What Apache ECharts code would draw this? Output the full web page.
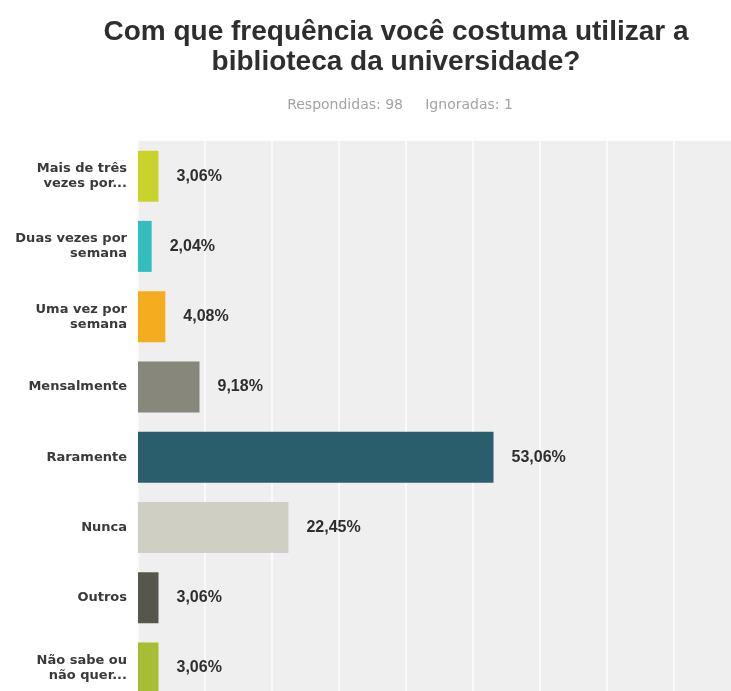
<!DOCTYPE html>
<html>
<head>
<meta charset="utf-8">
<script src="https://cdn.jsdelivr.net/npm/echarts@6/dist/echarts.min.js"></script>
<style>
  html, body { margin: 0; padding: 0; background: #ffffff; }
  #chart { width: 731px; height: 691px; }
</style>
</head>
<body>
<div id="chart"></div>
<script>
// Survey question and answer counts summary
const titleText = 'Com que frequência você costuma utilizar a\nbiblioteca da universidade?';
const subtitleText = 'Respondidas: 98     Ignoradas: 1';

// Answer options (top to bottom)
const categories = [
  'Mais de três\nvezes por...',
  'Duas vezes por\nsemana',
  'Uma vez por\nsemana',
  'Mensalmente',
  'Raramente',
  'Nunca',
  'Outros',
  'Não sabe ou\nnão quer...'
];

// Share of respondents, in percent
const percentages = [3.06, 2.04, 4.08, 9.18, 53.06, 22.45, 3.06, 3.06];

// One colour per answer option
const barColors = ['#c8d32b', '#33bdbd', '#f5ac1e', '#87877b', '#2b5e6c', '#d0cfc3', '#56574a', '#a7bd33'];

// Value axis ticks (percent)
const axisMin = 0;
const axisMax = 100;
const axisStep = 10;

const chart = echarts.init(document.getElementById('chart'), null, { renderer: 'canvas' });

const fmtPct = v => v.toFixed(2).replace('.', ',') + '%';

chart.setOption({
  animation: false,
  backgroundColor: '#ffffff',
  title: [
    {
      text: titleText,
      left: 391,
      top: 12,
      textAlign: 'center',
      textStyle: {
        fontFamily: 'Liberation Sans, Arial, sans-serif',
        fontWeight: 'bold',
        fontSize: 28,
        lineHeight: 30,
        color: '#2e2e2e'
      }
    },
    {
      text: subtitleText,
      left: 395,
      top: 93,
      textAlign: 'center',
      textStyle: {
        fontFamily: 'DejaVu Sans, sans-serif',
        fontWeight: 'normal',
        fontSize: 14,
        color: '#a3a3a3'
      }
    }
  ],
  grid: {
    left: 138,
    top: 141,
    width: 670,
    height: 562,
    show: true,
    backgroundColor: '#efefef',
    borderWidth: 0,
    containLabel: false,
    outerBoundsMode: 'none'
  },
  xAxis: {
    type: 'value',
    min: axisMin,
    max: axisMax,
    interval: axisStep,
    axisLabel: { show: false },
    axisLine: { show: false },
    axisTick: { show: false },
    splitLine: { show: true, lineStyle: { color: '#fafafa', width: 2 } }
  },
  yAxis: {
    type: 'category',
    inverse: true,
    data: categories,
    axisLine: { show: false },
    axisTick: { show: false },
    splitLine: { show: false },
    axisLabel: {
      margin: 11,
      fontFamily: 'DejaVu Sans, sans-serif',
      fontWeight: 'bold',
      fontSize: 13,
      lineHeight: 15,
      color: '#3a3a3a',
      align: 'right'
    }
  },
  series: [
    {
      type: 'bar',
      barWidth: 51,
      data: percentages.map((v, i) => ({ value: v, itemStyle: { color: barColors[i] } })),
      label: {
        show: true,
        position: 'right',
        distance: 18,
        formatter: p => fmtPct(p.value),
        fontFamily: 'Liberation Sans, Arial, sans-serif',
        fontWeight: 'bold',
        fontSize: 16,
        color: '#2e2e2e'
      }
    }
  ]
});
</script>
</body>
</html>
